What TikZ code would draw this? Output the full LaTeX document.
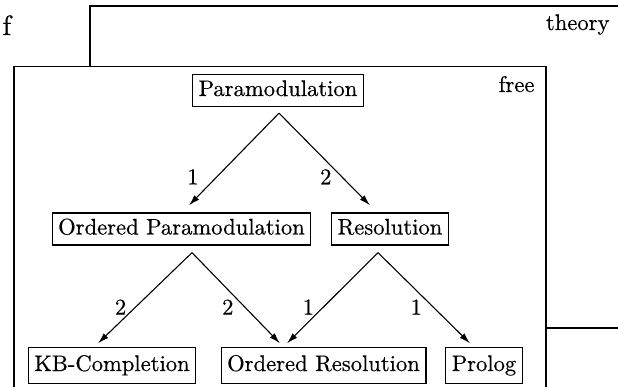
\documentclass[tikz,border=0pt]{standalone}
\usepackage{fontspec}
\usetikzlibrary{arrows.meta}
% the 10pt design of Latin Modern, set large and slightly heavier
\newfontfamily\lmten{lmroman10-regular.otf}[FakeBold=0.5]
\begin{document}
\begin{tikzpicture}[x=1pt,y=-1pt,
  every node/.style={font=\lmten\fontsize{22.6}{27}\selectfont},
  method/.style={draw, line width=1.3pt, inner xsep=6pt, inner ysep=6pt,
                 text height=15.5pt, text depth=4.5pt},
  leaf/.style={inner ysep=8pt},
  frame/.style={line width=1.4pt},
  derive/.style={-{Latex[length=11pt,width=6.5pt]}, line width=1.1pt},
  weight/.style={inner sep=0pt}]
\clip (0,0) rectangle (618,387);

% outer frame: theory
\draw[frame] (90,6) rectangle (640,328);
\node[anchor=base east] (theory) at (613,30) {theory};
\node[anchor=base west, font=\lmten\fontsize{28}{32}\selectfont] (f) at (-1,35) {f};

% inner frame: free
\draw[frame, fill=white] (14,66.5) rectangle (546,420);
\node[anchor=base east] (free) at (538,92) {free};

% calculi
\node[method] (para) at (278,90.5) {Paramodulation};
\node[method] (opara) at (181.5,229) {Ordered Paramodulation};
\node[method] (res) at (390,229) {Resolution};
\node[method, leaf] (kb) at (112,365.5) {KB-Completion};
\node[method, leaf] (ores) at (323.5,365.5) {Ordered Resolution};
\node[method, leaf] (prolog) at (484,365.5) {Prolog};

% refinements with their weights
\draw[derive] ([xshift=1pt,yshift=-6pt]para.south) --
  node[weight, pos=0.69, xshift=-24pt] {1} ([xshift=7.5pt,yshift=7pt]opara.north);
\draw[derive] ([xshift=1pt,yshift=-6pt]para.south) --
  node[weight, pos=0.69, xshift=-16pt] {2} ([xshift=-20pt,yshift=7pt]res.north);

\draw[derive] ([xshift=10.5pt,yshift=-7pt]opara.south) --
  node[weight, pos=0.6, xshift=-15pt] {2} ([xshift=-14pt,yshift=3.5pt]kb.north);
\draw[derive] ([xshift=10.5pt,yshift=-7pt]opara.south) --
  node[weight, pos=0.6, xshift=-17pt] {2} ([xshift=-43.5pt,yshift=3.5pt]ores.north);
\draw[derive] ([xshift=-12pt,yshift=-7pt]res.south) --
  node[weight, pos=0.6, xshift=-15pt] {1} ([xshift=-36.5pt,yshift=3.5pt]ores.north);
\draw[derive] ([xshift=-12pt,yshift=-7pt]res.south) --
  node[weight, pos=0.6, xshift=-17pt] {1} ([xshift=-14pt,yshift=3.5pt]prolog.north);
\end{tikzpicture}
\end{document}
